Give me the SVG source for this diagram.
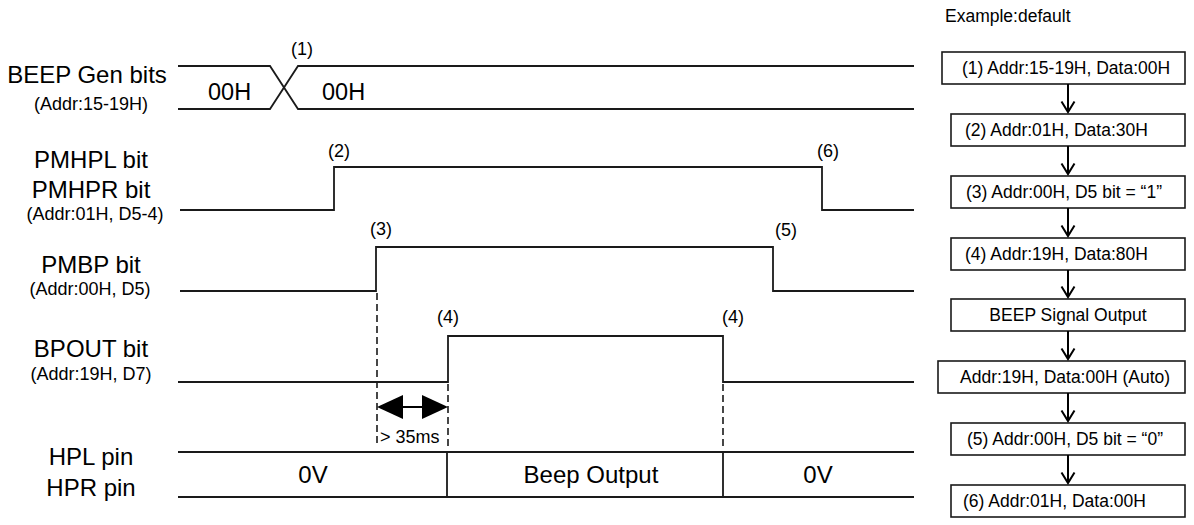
<svg xmlns="http://www.w3.org/2000/svg" width="1194" height="525" viewBox="0 0 1194 525">
<style>
text{font-family:"Liberation Sans",Arial,sans-serif;fill:#000}
.lbl{font-size:24px;text-anchor:middle}
.sub{font-size:18px;text-anchor:middle}
.num{font-size:18px;text-anchor:middle}
.big{font-size:23.5px}
.sig{fill:none;stroke:#1a1a1a;stroke-width:1.8}
.dash{fill:none;stroke:#1a1a1a;stroke-width:1.6;stroke-dasharray:7 4}
.box{fill:#fff;stroke:#1a1a1a;stroke-width:1.6}
.bt{font-size:17.5px}
.flow{fill:none;stroke:#000;stroke-width:2}
</style>
<defs>
<marker id="vh" markerWidth="16" markerHeight="16" refX="12" refY="8" orient="auto" markerUnits="userSpaceOnUse" viewBox="0 0 16 16">
<path d="M1.5,1.5 L12,8 L1.5,14.5" fill="none" stroke="#000" stroke-width="2"/>
</marker>
</defs>

<g id="beep-gen">
<text class="lbl" x="87" y="83">BEEP Gen bits</text>
<text class="sub" x="91" y="110">(Addr:15-19H)</text>
<path class="sig" d="M178,66 H270 L298,109 H914"/>
<path class="sig" d="M178,109 H270 L298,66 H914"/>
<text class="big" x="208" y="100">00H</text>
<text class="big" x="322" y="100">00H</text>
<text class="num" x="302" y="55">(1)</text>
</g>

<g id="pmhp">
<text class="lbl" x="91" y="168">PMHPL bit</text>
<text class="lbl" x="91" y="198">PMHPR bit</text>
<text class="sub" x="95" y="220">(Addr:01H, D5-4)</text>
<path class="sig" d="M180,210 H334 V167 H822 V210 H914"/>
<text class="num" x="339" y="157">(2)</text>
<text class="num" x="828" y="157">(6)</text>
</g>

<g id="pmbp">
<text class="lbl" x="91" y="273">PMBP bit</text>
<text class="sub" x="90" y="295">(Addr:00H, D5)</text>
<path class="sig" d="M180,291 H376 V247 H773 V291 H914"/>
<text class="num" x="381" y="235">(3)</text>
<text class="num" x="786" y="236">(5)</text>
</g>

<g id="bpout">
<text class="lbl" x="91" y="357">BPOUT bit</text>
<text class="sub" x="91" y="380">(Addr:19H, D7)</text>
<path class="sig" d="M178,382 H448 V336 H723 V382 H914"/>
<text class="num" x="448" y="323">(4)</text>
<text class="num" x="733" y="323">(4)</text>
</g>

<g id="timing-guides">
<path class="dash" d="M377,293 V447 M448,384 V447 M723,384 V447"/>
<path d="M403,407 H422" stroke="#000" stroke-width="2"/>
<polygon points="377,407 403,395 403,419" fill="#000"/>
<polygon points="448,407 422,395 422,419" fill="#000"/>
<text x="380" y="443" style="font-size:18px">&gt; 35ms</text>
</g>

<g id="hp-pin">
<text class="lbl" x="91" y="465">HPL pin</text>
<text class="lbl" x="91" y="496">HPR pin</text>
<path class="sig" d="M178,452 H914 M178,497 H914 M447,452 V497 M723,452 V497"/>
<text class="lbl" x="313" y="483">0V</text>
<text class="lbl" x="591" y="483">Beep Output</text>
<text class="lbl" x="818" y="483">0V</text>
</g>

<text x="945" y="22" style="font-size:17.5px">Example:default</text>

<g id="step1"><rect class="box" x="942" y="52" width="243" height="32"/><text class="bt" x="962" y="74">(1) Addr:15-19H, Data:00H</text></g>
<g id="step2"><rect class="box" x="951" y="114" width="234" height="32"/><text class="bt" x="965" y="136">(2) Addr:01H, Data:30H</text></g>
<g id="step3"><rect class="box" x="951" y="176" width="234" height="32"/><text class="bt" x="966" y="198">(3) Addr:00H, D5 bit = “1”</text></g>
<g id="step4"><rect class="box" x="951" y="238" width="234" height="32"/><text class="bt" x="965" y="260">(4) Addr:19H, Data:80H</text></g>
<g id="step-beep"><rect class="box" x="951" y="299" width="234" height="32"/><text class="bt" x="1068" y="321" text-anchor="middle">BEEP Signal Output</text></g>
<g id="step-auto"><rect class="box" x="938" y="361" width="247" height="32"/><text class="bt" x="960" y="383">Addr:19H, Data:00H (Auto)</text></g>
<g id="step5"><rect class="box" x="951" y="423" width="234" height="32"/><text class="bt" x="967" y="445">(5) Addr:00H, D5 bit = “0”</text></g>
<g id="step6"><rect class="box" x="951" y="485" width="234" height="32"/><text class="bt" x="963" y="507">(6) Addr:01H, Data:00H</text></g>

<g id="connectors">
<line class="flow" x1="1068" y1="84" x2="1068" y2="112" marker-end="url(#vh)"/>
<line class="flow" x1="1068" y1="146" x2="1068" y2="174" marker-end="url(#vh)"/>
<line class="flow" x1="1068" y1="208" x2="1068" y2="236" marker-end="url(#vh)"/>
<line class="flow" x1="1068" y1="270" x2="1068" y2="297" marker-end="url(#vh)"/>
<line class="flow" x1="1068" y1="331" x2="1068" y2="359" marker-end="url(#vh)"/>
<line class="flow" x1="1068" y1="393" x2="1068" y2="421" marker-end="url(#vh)"/>
<line class="flow" x1="1068" y1="455" x2="1068" y2="483" marker-end="url(#vh)"/>
</g>
</svg>
